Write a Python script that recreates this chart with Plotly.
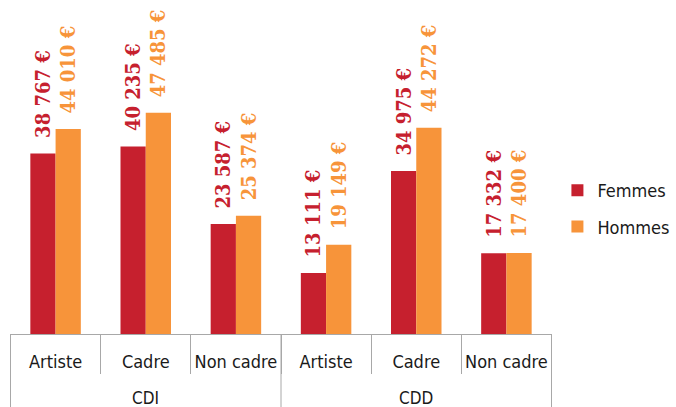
import plotly.graph_objects as go

contracts = ["CDI", "CDI", "CDI", "CDD", "CDD", "CDD"]
jobs = ["Artiste", "Cadre", "Non cadre", "Artiste", "Cadre", "Non cadre"]
femmes = [38767, 40235, 23587, 13111, 34975, 17332]
hommes = [44010, 47485, 25374, 19149, 44272, 17400]

RED = "#C6202E"
ORANGE = "#F7943A"
GRID = "#a8a8a8"
SANS = "DejaVu Sans Condensed"

keys = [f"{c}|{j}" for c, j in zip(contracts, jobs)]


def euro(v):
    return "\u00a0\u00a0" + f"{v:,}".replace(",", " ") + " €"


fig = go.Figure()
for name, vals, color, grp in [("Femmes", femmes, RED, "f"), ("Hommes", hommes, ORANGE, "h")]:
    fig.add_trace(go.Bar(
        x=keys,
        y=vals,
        name=name,
        legendgroup=grp,
        marker=dict(color=color, line=dict(width=0)),
        text=[euro(v) for v in vals],
        textposition="outside",
        textangle=-90,
        constraintext="none",
        cliponaxis=False,
        textfont=dict(family="DejaVu Serif Condensed", size=20, color=color, weight="bold"),
    ))

# outer category labels (CDI / CDD), centred on the middle category of each group
groups = []
for c in contracts:
    if c not in groups:
        groups.append(c)
for g in groups:
    members = [k for k, c in zip(keys, contracts) if c == g]
    fig.add_annotation(
        x=members[len(members) // 2], xref="x",
        y=-64 / 334, yref="paper", yanchor="middle",
        text=g, showarrow=False,
        font=dict(family=SANS, size=17, color="#1a1a1a"),
    )

# group dividers at the outer-group boundaries
bounds = [-0.5]
for i in range(1, len(contracts)):
    if contracts[i] != contracts[i - 1]:
        bounds.append(i - 0.5)
bounds.append(len(contracts) - 0.5)
for b in bounds:
    fig.add_shape(
        type="line", xref="x", yref="paper",
        x0=b, x1=b, y0=0, y1=-73 / 334,
        line=dict(color=GRID, width=1),
    )

fig.update_layout(
    width=676,
    height=407,
    margin=dict(l=10, r=124, t=0, b=73),
    plot_bgcolor="white",
    paper_bgcolor="white",
    barmode="group",
    bargap=0.44,
    bargroupgap=0,
    font=dict(family=SANS, size=18, color="#1a1a1a"),
    legend=dict(
        x=1.01, y=0.485, xanchor="left", yanchor="top",
        traceorder="grouped", tracegroupgap=10,
        font=dict(size=18),
    ),
)
fig.update_xaxes(
    type="category",
    tickvals=keys, ticktext=jobs,
    tickangle=0,
    showline=True, linecolor=GRID, linewidth=1,
    ticks="outside", tickson="boundaries", ticklen=39, tickcolor=GRID,
    ticklabelstandoff=11,
    showgrid=False,
    automargin=False,
)
fig.update_yaxes(
    range=[0, 71700],
    visible=False,
    showgrid=False,
    zeroline=False,
    automargin=False,
)

fig.write_html(
    "out.html",
    config={"displayModeBar": False},
    post_script="document.body.style.margin='0';",
)
